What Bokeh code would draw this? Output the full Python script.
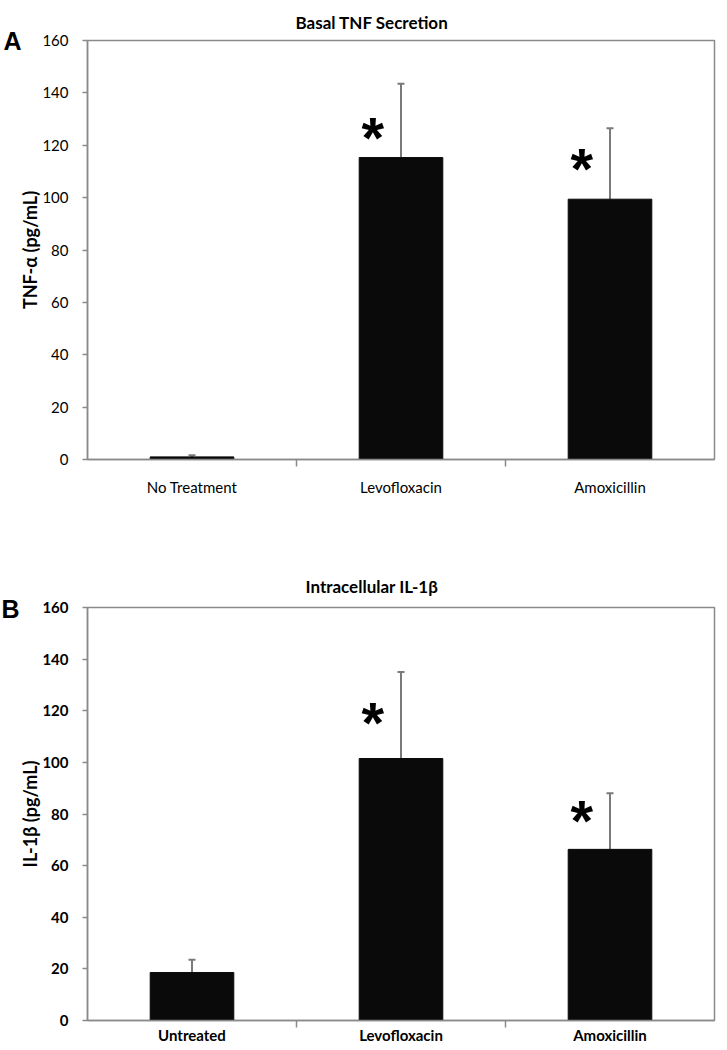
from bokeh.plotting import figure
from bokeh.models import (Range1d, FactorRange, CategoricalAxis, CategoricalScale,
                          LinearAxis, FixedTicker, Whisker, TeeHead, ColumnDataSource,
                          Title)
from bokeh.layouts import column
from bokeh.embed import file_html
from bokeh.resources import INLINE
from bokeh.core.properties import value
from bokeh.transform import dodge

# ---------------- data ----------------
cats_a = ["No Treatment", "Levofloxacin", "Amoxicillin"]
tnf_mean = [1.0, 115.3, 99.4]
tnf_err_top = [1.6, 143.5, 126.5]
tnf_sig = ["", "*", "*"]

cats_b = ["Untreated", "Levofloxacin", "Amoxicillin"]
il1b_mean = [18.6, 101.5, 66.3]
il1b_err_top = [23.5, 135.0, 88.0]
il1b_sig = ["", "*", "*"]

y_ticks = [0, 20, 40, 60, 80, 100, 120, 140, 160]

FONT = "Lato"
GRAY = "#8a8a8a"


def panel(cats, means, tops, sig, star_y, title, ylabel, letter, bold,
          height, b_top, b_bottom, b_right, cat_standoff, title_offset,
          title_standoff, letter_as_title):
    src = ColumnDataSource(dict(cat=cats, val=means, hi=tops, sig=sig, sy=star_y))
    p = figure(x_range=cats, y_range=Range1d(0, 160), width=727, height=height,
               output_backend="svg", toolbar_location=None,
               min_border_left=86, min_border_right=b_right,
               min_border_top=b_top, min_border_bottom=b_bottom)
    p.grid.visible = False
    p.outline_line_color = GRAY
    p.outline_line_width = 1.5
    p.background_fill_color = "white"
    p.border_fill_color = "white"

    # title
    p.title.text = title
    p.title.align = "left"
    p.title.offset = title_offset
    p.title.standoff = title_standoff
    p.title.text_font = FONT
    p.title.text_font_style = "bold"
    p.title.text_font_size = "17px"
    p.title.text_color = "black"

    p.vbar(x="cat", top="val", width=0.4, source=src,
           fill_color="#0a0a0a", line_color="#0a0a0a")
    w = Whisker(base="cat", upper="hi", lower="val", source=src,
                line_color="#7a7a7a", line_width=2,
                upper_head=TeeHead(size=7, line_color="#7a7a7a", line_width=2),
                lower_head=None)
    p.add_layout(w)

    p.text(x=dodge("cat", -0.135, range=p.x_range), y="sy", text="sig", source=src,
           text_font=value("Liberation Sans"), text_font_style="bold",
           text_font_size="58px", text_align="center", text_baseline="middle",
           text_color="black")

    style = "bold" if bold else "normal"
    ya = p.yaxis[0]
    ya.ticker = FixedTicker(ticks=y_ticks)
    ya.major_tick_out = 5
    ya.major_tick_in = 0
    ya.minor_tick_line_color = None
    ya.axis_line_color = GRAY
    ya.axis_line_width = 1.5
    ya.major_tick_line_color = GRAY
    ya.major_tick_line_width = 1.5
    ya.major_label_standoff = 14
    ya.major_label_text_font = FONT
    ya.major_label_text_font_size = "15px"
    ya.major_label_text_font_style = style
    ya.major_label_text_color = "black"
    ya.axis_label = ylabel
    ya.axis_label_text_font = FONT
    ya.axis_label_text_font_style = "bold"
    ya.axis_label_text_font_size = "18px"
    ya.axis_label_standoff = -2
    ya.axis_label_text_color = "black"

    if letter_as_title:
        # panel letter as a second title, pulled down beside the main title
        p.add_layout(Title(text=letter, align="left", offset=-86, standoff=-30,
                           text_font="Liberation Sans", text_font_style="bold",
                           text_font_size="25px", text_color="black"), "above")
        # keep the left panel the same width as the other panel
        spacer_axis = LinearAxis(ticker=FixedTicker(ticks=[160]),
                                 major_label_overrides={160: " "},
                                 axis_line_color=None, major_tick_line_color=None,
                                 minor_tick_line_color=None,
                                 major_tick_out=0, major_tick_in=0,
                                 major_label_standoff=-5,
                                 major_label_text_font="Liberation Sans",
                                 major_label_text_font_size="25px")
        p.left = [ya, spacer_axis]
    else:
        # panel letter, drawn as a tick label of a bare extra axis at the top of the frame
        letter_axis = LinearAxis(ticker=FixedTicker(ticks=[160]),
                                 major_label_overrides={160: letter},
                                 axis_line_color=None, major_tick_line_color=None,
                                 minor_tick_line_color=None,
                                 major_tick_out=0, major_tick_in=0,
                                 major_label_standoff=-5,
                                 major_label_text_font="Liberation Sans",
                                 major_label_text_font_style="bold",
                                 major_label_text_font_size="25px",
                                 major_label_text_color="black")
        p.left = [ya, letter_axis]

    cat_axis = p.xaxis[0]
    cat_axis.major_tick_line_color = None
    cat_axis.axis_line_color = None
    cat_axis.major_label_standoff = cat_standoff
    cat_axis.major_label_text_font = FONT
    cat_axis.major_label_text_font_size = "15px"
    cat_axis.major_label_text_font_style = style
    cat_axis.major_label_text_color = "black"

    # separator ticks between categories (at the category boundaries)
    seps = ["s%d" % i for i in range(len(cats) + 1)]
    p.extra_x_ranges = {"sep": FactorRange(factors=seps, range_padding=-0.5,
                                           range_padding_units="absolute")}
    p.extra_x_scales = {"sep": CategoricalScale()}
    tick_axis = CategoricalAxis(x_range_name="sep",
                                major_tick_out=7, major_tick_in=0,
                                major_tick_line_color=GRAY, major_tick_line_width=1.5,
                                axis_line_color=GRAY, axis_line_width=1.5,
                                major_label_text_font_size="0px",
                                major_label_text_alpha=0, major_label_standoff=0)
    p.below = [tick_axis, cat_axis]
    return p


nan = float("nan")
pa = panel(cats_a, tnf_mean, tnf_err_top, tnf_sig, [nan, 123.1, 111.2],
           "Basal TNF Secretion", "TNF-\u03b1 (pg/mL)", "A", False,
           523, 40, 64, 13, 5, 208, 16, False)
pb = panel(cats_b, il1b_mean, il1b_err_top, il1b_sig, [nan, 115.5, 77.6],
           "Intracellular IL-1\u03b2", "IL-1\u03b2 (pg/mL)", "B", True,
           527, 84, 30, 2, -8, 218, 22, True)

layout = column(pa, pb, spacing=0)
open("out.html", "w").write(file_html(layout, INLINE))
